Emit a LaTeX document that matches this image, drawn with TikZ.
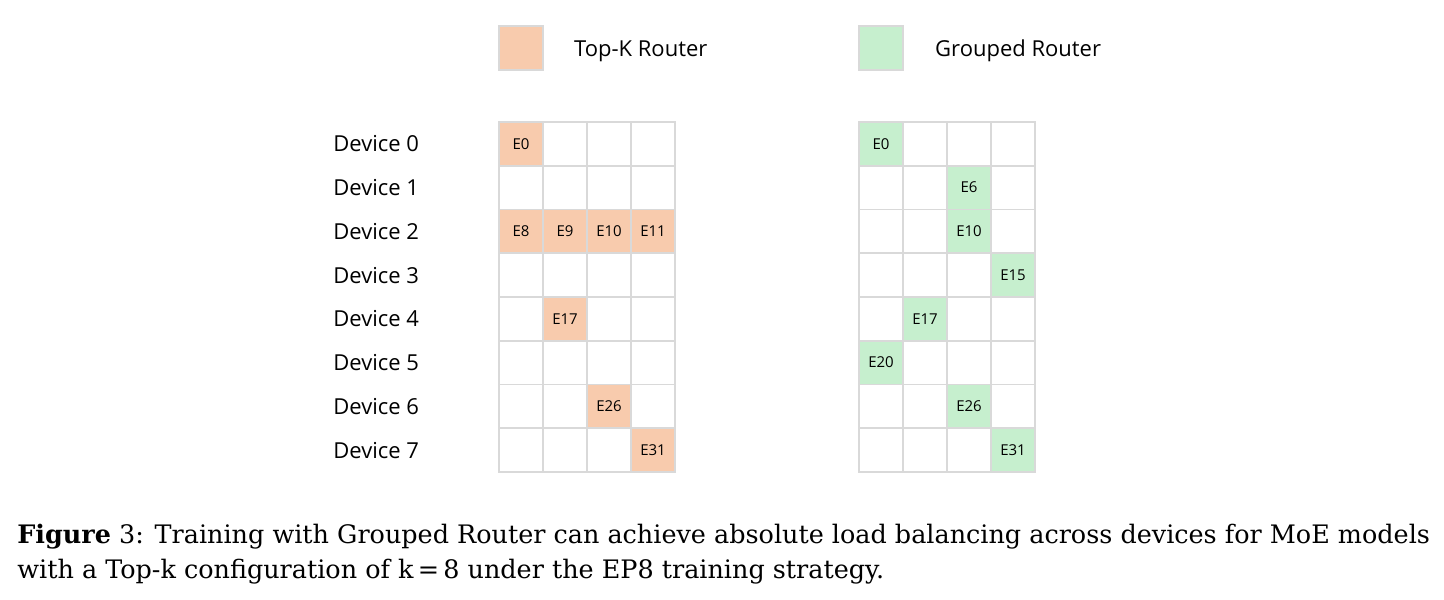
\documentclass[tikz,border=0pt]{standalone}
\usepackage{fontspec}
\setmainfont{DejaVu Serif}
\newfontfamily\diagfont{Open Sans}
\usetikzlibrary{positioning}
\definecolor{topkCol}{HTML}{F8CBAD}
\definecolor{groupCol}{HTML}{C6EFCE}
\definecolor{gridCol}{HTML}{D9D9D9}

\begin{document}
\begin{tikzpicture}[x=0.5pt,y=-0.5pt,
  cell/.style={draw=gridCol,line width=0.8pt,minimum width=22pt,
    minimum height=21.875pt,inner sep=0pt,
    font=\diagfont\fontsize{7.5}{9}\selectfont},
  expert/.style={cell,fill=#1},
  legendbox/.style={draw=gridCol,line width=0.8pt,fill=#1,
    minimum size=22pt,inner sep=0pt},
  sidetext/.style={font=\diagfont\fontsize{11}{13}\selectfont,
    anchor=west,inner sep=0pt},
  caption/.style={font=\fontsize{12.73}{17.5}\selectfont,
    anchor=base west,inner sep=0pt},
]
\useasboundingbox (0,0) rectangle (1444,599);

% legend
\node[legendbox=topkCol] (keyTopk) at (521,48) {};
\node[sidetext,right=15pt of keyTopk,yshift=-1.5pt] (keyTopkText) {Top-K Router};
\node[legendbox=groupCol] (keyGrp) at (881,48) {};
\node[sidetext,right=15.5pt of keyGrp,yshift=-1.5pt] (keyGrpText) {Grouped Router};

% device rows and empty grids
\foreach \r in {0,...,7} {
  \node[sidetext] (dev\r) at (333,{143.875+43.75*\r}) {Device \r};
  \foreach \c in {0,...,3} {
    \node[cell] (topk-\r-\c) at ({521+44*\c},{143.875+43.75*\r}) {};
    \node[cell] (grp-\r-\c) at ({881+44*\c},{143.875+43.75*\r}) {};
  }
}

% experts picked by each router
\foreach \r/\c/\e in {0/0/E0,2/0/E8,2/1/E9,2/2/E10,2/3/E11,4/1/E17,6/2/E26,7/3/E31}
  \node[expert=topkCol] (topkE-\r-\c) at (topk-\r-\c) {\e};
\foreach \r/\c/\e in {0/0/E0,1/2/E6,2/2/E10,3/3/E15,4/1/E17,5/0/E20,6/2/E26,7/3/E31}
  \node[expert=groupCol] (grpE-\r-\c) at (grp-\r-\c) {\e};

% caption
\node[caption] (cap1) at (17,543) {\textbf{Figure} 3: Training with Grouped Router can achieve absolute load balancing across devices for MoE models};
\node[caption] (cap2) at ([yshift=-17.5pt]cap1.base west) {with a Top-k configuration of k\,=\,8 under the EP8 training strategy.};

\end{tikzpicture}
\end{document}
